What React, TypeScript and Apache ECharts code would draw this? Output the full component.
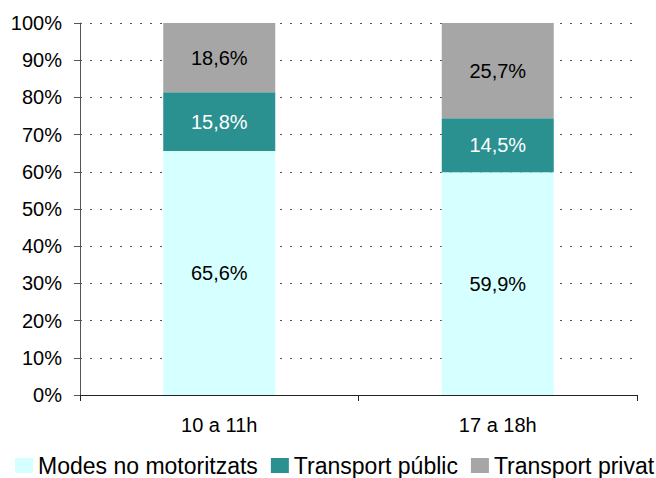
import React, { useEffect, useRef } from "react";
import * as echarts from "echarts";

const categories = ["10 a 11h", "17 a 18h"];
const seriesNames = ["Modes no motoritzats", "Transport públic", "Transport privat"];
const noMotor = [65.6, 59.9];
const publicT = [15.8, 14.5];
const privat = [18.6, 25.7];
const colors = ["#D6FFFF", "#2A9090", "#A6A6A6"];
const labelColors = ["#000000", "#FFFFFF", "#000000"];

const FONT = "Liberation Sans, Arial, sans-serif";

export default function App() {
  const ref = useRef<HTMLDivElement>(null);
  useEffect(() => {
    document.body.style.margin = "0";
    const chart = echarts.init(ref.current!, null, { renderer: "svg" });
    const data = [noMotor, publicT, privat];
    chart.setOption({
      animation: false,
      textStyle: { fontFamily: FONT },
      grid: { left: 80, right: 19, top: 23, bottom: 83 },
      legend: {
        top: 454,
        left: 15,
        width: 641,
        padding: 0,
        itemWidth: 18,
        itemHeight: 15,
        itemGap: 13,
        icon: "rect",
        textStyle: { fontSize: 23, color: "#000", fontFamily: FONT },
        data: seriesNames,
      },
      xAxis: {
        type: "category",
        data: categories,
        axisLine: { lineStyle: { color: "#222", width: 1 } },
        axisTick: { show: true, length: 6, lineStyle: { color: "#222" } },
        axisLabel: { fontSize: 20, color: "#000", margin: 20 },
      },
      yAxis: {
        type: "value",
        min: 0,
        max: 100,
        interval: 10,
        axisLine: { show: true, lineStyle: { color: "#555", width: 1 } },
        axisTick: { show: true, length: 6, lineStyle: { color: "#555" } },
        axisLabel: { fontSize: 20, color: "#000", formatter: "{value}%", margin: 18 },
        splitLine: { show: true, lineStyle: { color: "#555", type: [2, 8], width: 1 } },
      },
      series: seriesNames.map((name, i) => ({
        name,
        type: "bar",
        stack: "total",
        barWidth: 112,
        data: data[i],
        itemStyle: { color: colors[i] },
        label: {
          show: true,
          position: "inside",
          fontSize: 20,
          color: labelColors[i],
          formatter: (p: any) => p.value.toFixed(1).replace(".", ",") + "%",
        },
      })),
    });
    return () => chart.dispose();
  }, []);
  return <div ref={ref} style={{ width: 656, height: 478 }} />;
}
